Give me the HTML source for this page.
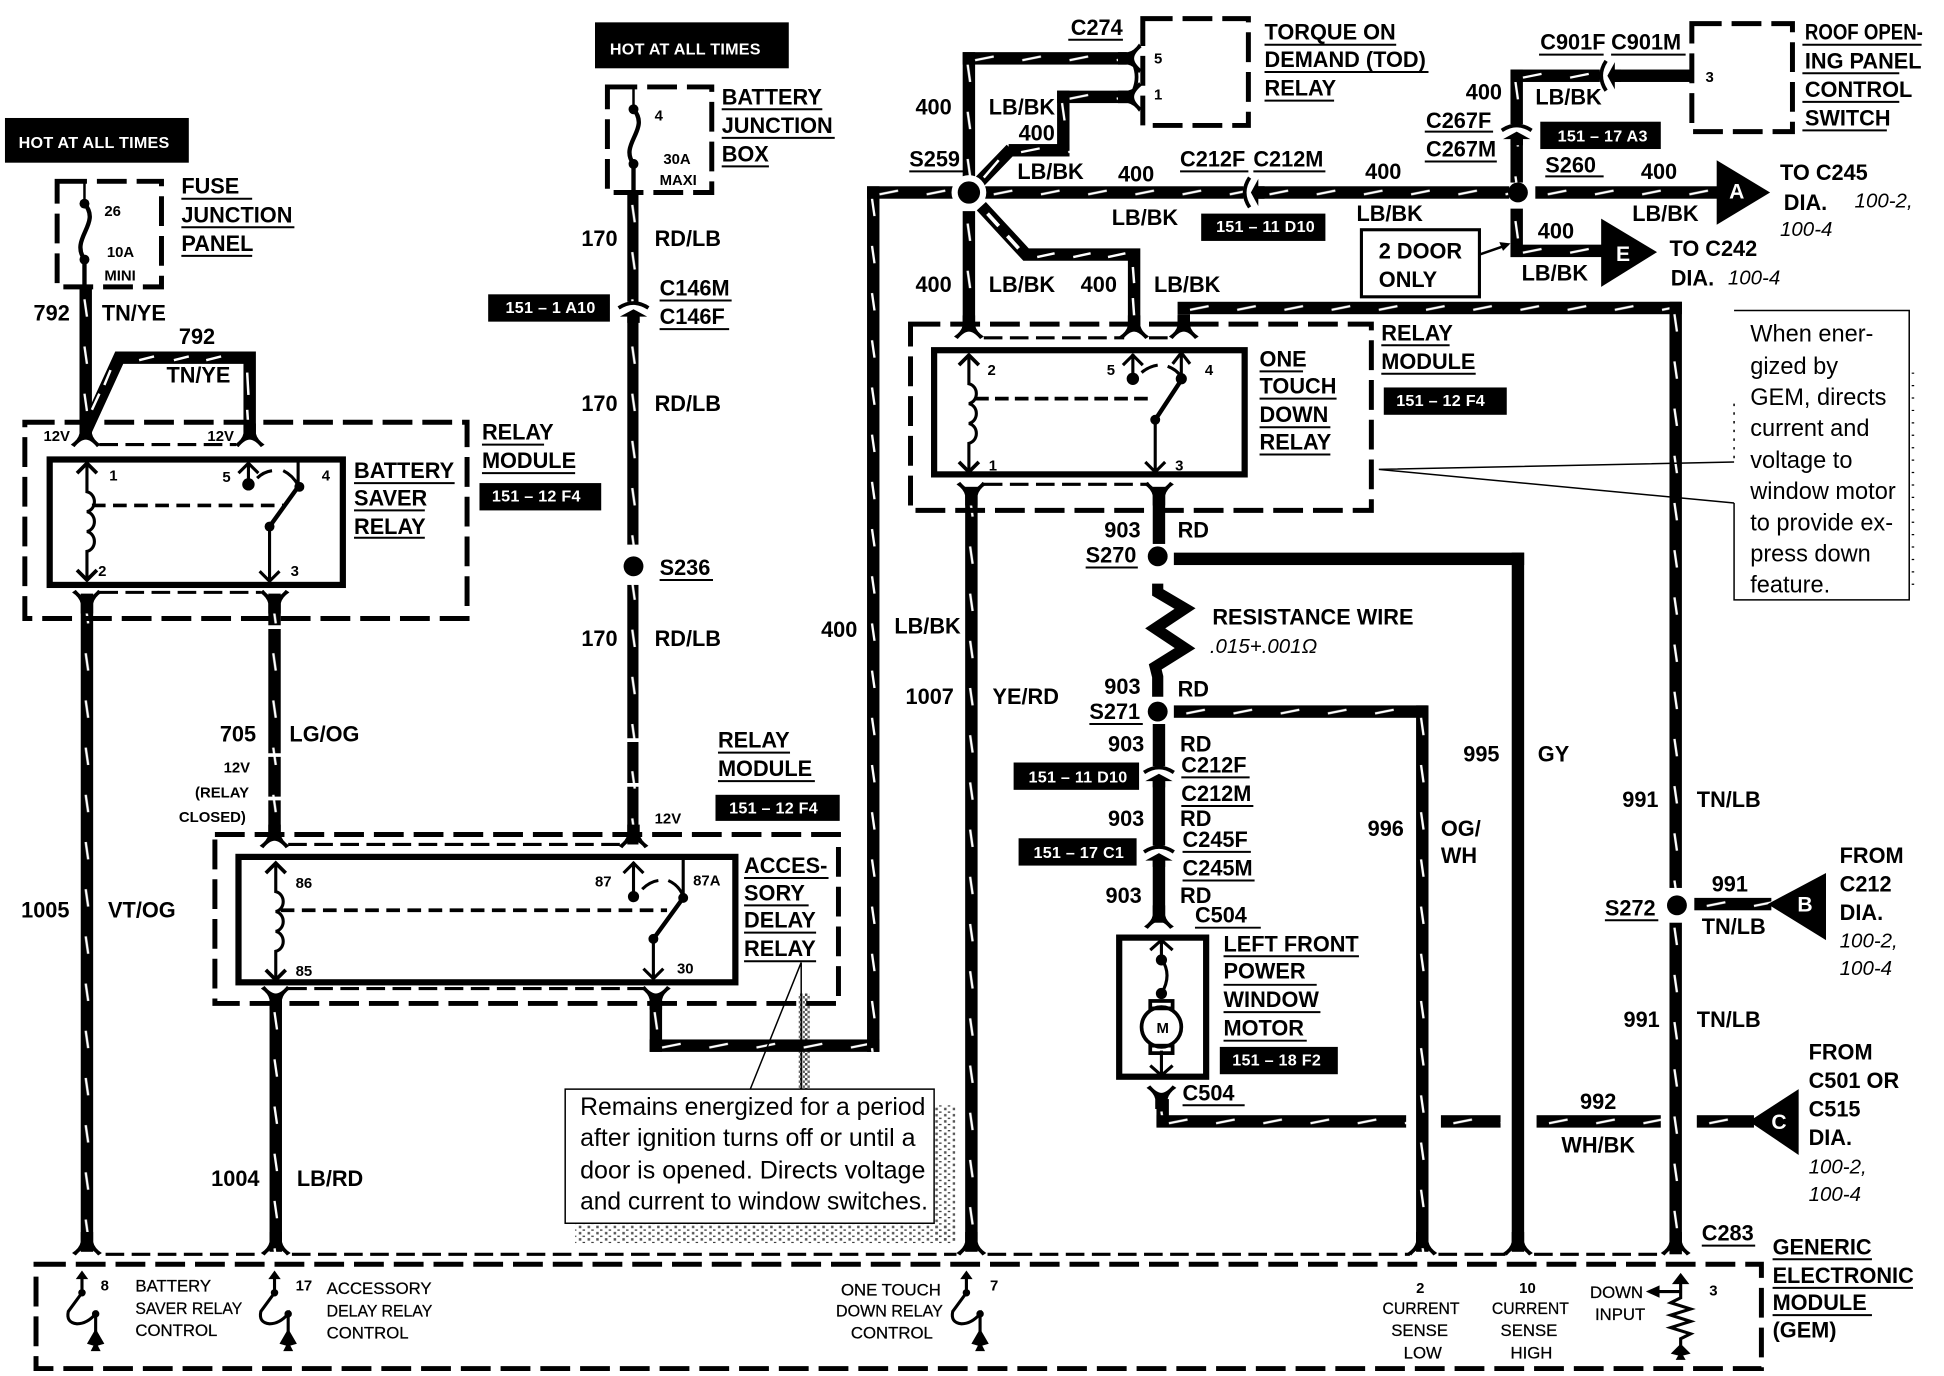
<!DOCTYPE html>
<html><head><meta charset="utf-8"><style>
html,body{margin:0;padding:0;background:#fff}
svg{display:block}
text{font-family:"Liberation Sans",sans-serif;fill:#000}
.b text{font-weight:bold;font-size:17.5px}
.n text{font-weight:bold;font-size:12px}
.s text{font-size:13.5px;stroke:#000;stroke-width:.2}
.r text{font-size:19px}
.i text{font-style:italic;font-size:16.5px}
.w text{fill:#fff;font-size:13px;font-weight:bold;letter-spacing:.2px}
.t text{fill:#fff;font-weight:bold;font-size:17px}
</style></head><body>
<svg xmlns="http://www.w3.org/2000/svg" width="1944" height="1376" viewBox="0 0 1565 1108" preserveAspectRatio="none">
<defs>
<pattern id="v" width="10" height="38" patternUnits="userSpaceOnUse"><rect width="10" height="38" fill="#000"/><path d="M4 10L6 24" stroke="#fff" stroke-width="1.9"/></pattern>
<pattern id="h" width="38" height="10" patternUnits="userSpaceOnUse"><rect width="38" height="10" fill="#000"/><path d="M10 6.5L25 3.5" stroke="#fff" stroke-width="1.9"/></pattern>
<pattern id="dith" width="4" height="4" patternUnits="userSpaceOnUse"><rect width="2" height="2" fill="#444"/><rect x="2" y="2" width="2" height="2" fill="#666"/></pattern>
<pattern id="dith2" width="7" height="5" patternUnits="userSpaceOnUse"><rect width="2" height="1" fill="#333"/><rect x="4" y="2" width="2" height="2" fill="#555"/></pattern>
<path id="p" d="M-5 -8H5V0Q6 5 12 9L9 11Q4 5 0 5Q-4 5 -9 11L-12 9Q-6 5 -5 0Z"/>
<g id="cv"><rect x="-9" y="-5" width="18" height="12" fill="#fff"/><path d="M-12 0Q0 -8 12 0" fill="none" stroke="#000" stroke-width="3"/><path d="M-11 7L0 1L11 7L5 7V12H-5V7Z"/></g>
<g id="coil" fill="none" stroke="#000" stroke-width="2.5"><path d="M0 2V24c8 2 8 14 0 16c8 2 8 14 0 16c8 2 8 14 0 16V94"/><path d="M-8 9L0 1L8 9M-8 87L0 95L8 87" stroke-width="3"/></g>
<g id="gs"><path d="M0 3V19L-11 34Q-13 43 -4 44Q4 44 11 36V58" fill="none" stroke="#000" stroke-width="2.5"/><path d="M-5 8L0 1L5 8Z"/><circle cy="19" r="3"/><circle cx="11" cy="36" r="3"/><path d="M11 48L18 60L11 62L4 60ZM11 58l4 8h-8z"/></g>
</defs>

<!-- dither shadows -->
<rect x="643" y="800" width="9" height="78" fill="url(#dith)"/>
<rect x="752" y="890" width="17" height="110" fill="url(#dith2)"/>
<rect x="463" y="986" width="306" height="15" fill="url(#dith2)"/>
<path d="M1540 300V480" stroke="#000" stroke-width="2" stroke-dasharray="1 9"/>
<path d="M1396 325V372" stroke="#000" stroke-width="1.2" stroke-dasharray="2 5"/>

<!-- wires -->
<rect transform="translate(64,231)" width="10" height="118" fill="url(#v)"/>
<path d="M69 347L96 288H201V352" fill="none" stroke="#000" stroke-width="10"/>
<path d="M74 330L80 317M84 310L89 298" stroke="#fff" stroke-width="2"/>
<path d="M112 290L124 287M140 290L152 287M166 290L178 287M199 300L200 318M199 330L200 345" stroke="#fff" stroke-width="2" fill="none"/>
<rect transform="translate(65,478)" width="10" height="530" fill="url(#v)"/>
<rect transform="translate(216,478)" width="10" height="197" fill="url(#v)"/>
<path d="M214 505h14M214 608h14M214 643h14" stroke="#fff" stroke-width="3"/>
<rect transform="translate(505,155)" width="9" height="525" fill="url(#v)"/>
<path d="M502 596h14M502 632h14M502 440h14" stroke="#fff" stroke-width="3"/>
<rect x="502" y="441" width="16" height="30" fill="#fff"/>
<rect transform="translate(217,805)" width="10" height="203" fill="url(#v)"/>
<rect transform="translate(523,805)" width="10" height="42" fill="url(#v)"/>
<rect transform="translate(523,837)" width="185" height="10" fill="url(#h)"/>
<rect transform="translate(698,150)" width="10" height="697" fill="url(#v)"/>
<rect transform="translate(698,150)" width="70" height="10" fill="url(#h)"/>
<rect transform="translate(775,42)" width="10" height="105" fill="url(#v)"/>
<rect transform="translate(775,42)" width="132" height="10" fill="url(#h)"/>
<rect transform="translate(851,73)" width="57" height="10" fill="url(#h)"/>
<rect transform="translate(851,73)" width="10" height="52" fill="url(#v)"/>
<rect transform="translate(812,116)" width="49" height="10" fill="url(#h)"/>
<path d="M785 150L814 120" stroke="#000" stroke-width="10"/><path d="M792 143L804 129" stroke="#fff" stroke-width="2"/>
<rect transform="translate(790,150)" width="215" height="10" fill="url(#h)"/>
<rect transform="translate(1012,150)" width="203" height="10" fill="url(#h)"/>
<rect transform="translate(1236,150)" width="150" height="10" fill="url(#h)"/>
<rect transform="translate(1216,56)" width="10" height="91" fill="url(#v)"/>
<rect transform="translate(1216,56)" width="72" height="10" fill="url(#h)"/>
<rect x="1298" y="56" width="63" height="10"/>
<rect transform="translate(1216,168)" width="10" height="39" fill="url(#v)"/>
<rect transform="translate(1216,197)" width="75" height="10" fill="url(#h)"/>
<polygon points="1382,129 1425,155 1382,181"/>
<polygon points="1289,176 1334,203 1289,231"/>
<rect transform="translate(775,170)" width="10" height="92" fill="url(#v)"/>
<path d="M790 166L826 205H913V262" fill="none" stroke="#000" stroke-width="10"/>
<path d="M795 172L804 182M811 190L820 200" stroke="#fff" stroke-width="3"/>
<path d="M835 207L849 204M864 207L878 204M892 207L906 204M912 215L913 228M912 240L913 254" stroke="#fff" stroke-width="2"/>
<rect transform="translate(948,243)" width="406" height="10" fill="url(#h)"/>
<rect transform="translate(948,253)" width="10" height="12" fill="url(#v)"/>
<rect transform="translate(1344,243)" width="10" height="767" fill="url(#v)"/>
<rect x="1340" y="715" width="18" height="28" fill="#fff"/>
<rect transform="translate(777,392)" width="10" height="616" fill="url(#v)"/>
<rect x="928" y="392" width="10" height="46"/>
<rect x="945" y="445" width="282" height="10"/>
<rect x="1217" y="445" width="10" height="563"/>
<path d="M932 470V477L954 490L930 506L954 522L930 537L932 545V561" fill="none" stroke="#000" stroke-width="9"/>
<rect transform="translate(945,568)" width="204" height="10" fill="url(#h)"/>
<rect transform="translate(1140,568)" width="10" height="440" fill="url(#v)"/>
<rect x="928" y="583" width="10" height="160"/>
<rect transform="translate(931,885)" width="10" height="22" fill="url(#v)"/>
<rect transform="translate(931,898)" width="201" height="10" fill="url(#h)"/>
<rect transform="translate(1160,898)" width="48" height="10" fill="url(#h)"/>
<rect transform="translate(1237,898)" width="100" height="10" fill="url(#h)"/>
<rect transform="translate(1366,898)" width="46" height="10" fill="url(#h)"/>
<rect transform="translate(1364,723)" width="62" height="10" fill="url(#h)"/>
<polygon points="1423,728 1470,703 1470,757"/>
<polygon points="1408,903 1448,877 1448,930"/>

<!-- prongs -->
<g>
<use href="#p" x="69" y="349"/><use href="#p" x="201" y="349"/>
<use href="#p" transform="translate(70,486) scale(1,-1)"/><use href="#p" transform="translate(221,486) scale(1,-1)"/>
<use href="#p" x="221" y="672"/><use href="#p" x="510" y="672"/>
<use href="#p" transform="translate(222,805) scale(1,-1)"/><use href="#p" transform="translate(528,805) scale(1,-1)"/>
<use href="#p" x="780" y="262"/><use href="#p" x="913" y="262"/><use href="#p" x="953" y="262"/>
<use href="#p" transform="translate(782,399) scale(1,-1)"/><use href="#p" transform="translate(933,399) scale(1,-1)"/>
<use href="#p" x="933" y="737"/><use href="#p" transform="translate(935,885) scale(1,-1)"/>
<use href="#p" x="70" y="1000"/><use href="#p" x="222" y="1000"/><use href="#p" x="782" y="1000"/>
<use href="#p" x="1145" y="1000"/><use href="#p" x="1222" y="1000"/><use href="#p" x="1349" y="1000"/>
<use href="#p" transform="translate(908,47) rotate(-90)"/><use href="#p" transform="translate(908,78) rotate(-90)"/>
<path d="M913 52Q917 62 913 72" fill="none" stroke="#000" stroke-width="3"/>
<use href="#cv" x="510" y="248"/><use href="#cv" x="933" y="622"/><use href="#cv" x="933" y="686"/><use href="#cv" x="1221" y="105"/>
<use href="#cv" transform="translate(1006,155) rotate(-90)"/><use href="#cv" transform="translate(1293,61) rotate(-90)"/>
</g>

<!-- splice dots -->
<circle cx="780" cy="155" r="14" fill="#fff"/><circle cx="780" cy="155" r="9"/>
<circle cx="510" cy="456" r="8"/>
<circle cx="1222" cy="155" r="8"/>
<circle cx="932" cy="448" r="8"/>
<circle cx="932" cy="573" r="8"/>
<circle cx="1350" cy="729" r="8"/>

<!-- dashed housings -->
<g fill="none" stroke="#000" stroke-width="4" stroke-dasharray="24 8">
<rect x="46" y="146" width="84" height="85"/>
<rect x="489" y="70" width="84" height="85"/>
<rect x="20" y="340" width="356" height="158"/>
<rect x="173" y="672" width="502" height="136"/>
<rect x="733" y="261" width="371" height="150"/>
<rect x="920" y="15" width="85" height="86"/>
<rect x="1362" y="19" width="81" height="87"/>
<rect x="29" y="1018" width="1389" height="84"/>
</g>
<g stroke="#000" stroke-width="2.5" stroke-dasharray="15 6" fill="none">
<path d="M80 358H190M80 477H210"/>
<path d="M232 680H500M232 796H518"/>
<path d="M792 272H905M925 272H945M792 390H925"/>
<path d="M85 1010H210M235 1010H770M795 1010H1135M1158 1010H1212M1235 1010H1340"/>
</g>

<!-- relay bodies -->
<g fill="none" stroke="#000" stroke-width="5">
<rect x="40" y="370" width="236" height="101"/>
<rect x="192" y="690" width="400" height="101"/>
<rect x="752" y="282" width="250" height="100"/>
<rect x="901" y="755" width="70" height="112"/>
</g>
<rect x="1096" y="185" width="95" height="54" fill="#fff" stroke="#000" stroke-width="2.5"/>
<use href="#coil" x="70" y="372"/>
<use href="#coil" x="222" y="694"/>
<use href="#coil" x="780" y="285"/>
<g fill="none" stroke="#000" stroke-width="2.5">
<path d="M74 407H228" stroke-dasharray="11 6" stroke-width="3"/>
<path d="M226 407H537" transform="translate(0,326)" stroke-dasharray="11 6" stroke-width="3"/>
<path d="M785 321H925" stroke-dasharray="11 5" stroke-width="3"/>
<!-- relay1 -->
<path d="M200 372V390M192 381L200 373L208 381M207 385Q212 380 219 379M228 379Q236 383 240 391M240 372V392M217 424V468M209 460L217 468L225 460"/>
<path d="M240 392L217 424" stroke-width="3.5"/>
<!-- acc -->
<path d="M510 694V720M502 703L510 695L518 703M517 716Q523 710 530 709M538 709Q547 713 550 722M550 691V722M526 756V788M518 780L526 788L534 780"/>
<path d="M550 723L526 756" stroke-width="3.5"/>
<!-- one touch -->
<path d="M912 285V304M904 294L912 286L920 294M919 300Q925 295 932 294M940 295Q948 298 951 304M951 285V305M944 293L951 284L958 293M930 338V380M922 372L930 380L938 372"/>
<path d="M951 306L930 338" stroke-width="3.5"/>
<path d="M935 757V770M926 765L935 757L944 765M935 772Q944 785 935 800M935 846V866M926 858L935 866L944 858"/>
<path d="M1191 205L1214 197" stroke-width="2"/>
</g>
<path d="M1216 196l-9 -1l3 7z"/>
<circle cx="200" cy="390" r="5"/><circle cx="241" cy="392" r="4"/><circle cx="217" cy="424" r="4"/>
<circle cx="510" cy="722" r="4.5"/><circle cx="550" cy="723" r="4"/><circle cx="526" cy="756" r="4"/>
<circle cx="912" cy="305" r="5"/><circle cx="951" cy="305" r="4.5"/><circle cx="930" cy="338" r="4"/>
<circle cx="935" cy="773" r="4.5"/><circle cx="935" cy="800" r="4.5"/>
<g fill="none" stroke="#000" stroke-width="3"><circle cx="935" cy="827" r="16"/><rect x="926" y="806" width="18" height="6"/><rect x="926" y="842" width="18" height="6"/></g>

<!-- fuses -->
<g fill="none" stroke="#000" stroke-width="2">
<path d="M68 146V164"/><path d="M68 164C82 180 56 192 68 209V231" stroke-width="3.5"/>
<path d="M510 70V88"/><path d="M510 88C524 104 498 116 510 132V155" stroke-width="3.5"/>
</g>
<circle cx="68" cy="164" r="4"/><circle cx="68" cy="209" r="4"/><circle cx="510" cy="88" r="4"/><circle cx="510" cy="132" r="4"/>

<!-- GEM symbols -->
<use href="#gs" x="66" y="1022"/><use href="#gs" x="221" y="1022"/><use href="#gs" x="778" y="1022"/>
<path d="M1353 1028V1045L1345 1049L1361 1054L1345 1059L1361 1064L1345 1069L1361 1074L1353 1078V1085M1353 1040H1332" fill="none" stroke="#000" stroke-width="2.5"/>
<path d="M1346 1034L1353 1025L1360 1034ZM1325 1040L1336 1035V1045ZM1353 1082L1361 1090L1353 1092L1345 1090ZM1353 1088l4 7h-8z"/>

<!-- black tags -->
<rect x="4" y="95" width="148" height="36"/><rect x="479" y="18" width="156" height="37"/>
<rect x="386" y="389" width="98" height="22"/><rect x="393" y="237" width="98" height="22"/>
<rect x="576" y="640" width="100" height="21"/><rect x="1114" y="312" width="99" height="22"/>
<rect x="967" y="172" width="100" height="22"/><rect x="1240" y="98" width="97" height="22"/>
<rect x="816" y="614" width="101" height="22"/><rect x="820" y="675" width="95" height="22"/>
<rect x="982" y="843" width="95" height="22"/>
<g class="w">
<text x="15" y="119">HOT AT ALL TIMES</text><text x="491" y="44">HOT AT ALL TIMES</text>
<text x="396" y="404">151 – 12 F4</text><text x="407" y="252">151 – 1 A10</text>
<text x="587" y="655">151 – 12 F4</text><text x="1124" y="327">151 – 12 F4</text>
<text x="979" y="187">151 – 11 D10</text><text x="1254" y="114">151 – 17 A3</text>
<text x="828" y="630">151 – 11 D10</text><text x="832" y="691">151 – 17 C1</text>
<text x="992" y="858">151 – 18 F2</text>
</g>
<g class="t">
<text x="1392" y="160">A</text>
<text x="1301" y="210">E</text>
<text x="1447" y="734">B</text>
<text x="1426" y="909">C</text>
</g>

<!-- callouts -->
<rect x="455" y="877" width="297" height="108" fill="#fff" stroke="#000" stroke-width="1.2"/>
<path d="M645 775L604 877M645 775V877M1110 378L1396 372M1110 378L1396 405" fill="none" stroke="#000" stroke-width="1.2"/>
<path d="M1396 250H1537V483H1396V405" fill="none" stroke="#000" stroke-width="1.2"/>

<!-- underlines -->
<path stroke="#000" stroke-width="1.6" fill="none" d="M146 160h57M146 183h91M146 206h57M285 389h81M285 411h57M285 433h57M388 358h50M388 381h75M581 88h81M581 111h91M581 134h38M531 242h58M531 265h56M531 467h43M578 606h58M578 629h78M599 707h68M599 729h52M599 751h58M599 774h58M732 138h45M860 32h44M1018 36h106M1018 58h132M1018 81h56M950 138h55M1009 138h58M1239 44h52M1297 44h60M1451 36h96M1451 59h78M1451 82h78M1451 105h68M1147 106h55M1147 130h58M1244 142h47M1014 299h35M1014 321h62M1014 344h57M1014 366h57M1112 278h55M1112 301h76M874 457h42M877 583h43M951 626h55M951 649h58M952 686h55M952 709h58M962 747h53M985 770h109M985 793h75M985 815h78M985 838h67M952 890h50M1292 741h43M1370 1003h43M1427 1014h80M1427 1037h113M1427 1059h80"/>

<!-- bold labels -->
<g class="b">
<text x="146" y="156">FUSE</text><text x="146" y="179">JUNCTION</text><text x="146" y="202">PANEL</text>
<text x="27" y="258">792</text><text x="82" y="258">TN/YE</text><text x="144" y="277">792</text><text x="134" y="308">TN/YE</text>
<text x="285" y="385">BATTERY</text><text x="285" y="407">SAVER</text><text x="285" y="430">RELAY</text>
<text x="388" y="354">RELAY</text><text x="388" y="377">MODULE</text>
<text x="581" y="84">BATTERY</text><text x="581" y="107">JUNCTION</text><text x="581" y="130">BOX</text>
<text x="468" y="198">170</text><text x="527" y="198">RD/LB</text>
<text x="468" y="331">170</text><text x="527" y="331">RD/LB</text>
<text x="468" y="520">170</text><text x="527" y="520">RD/LB</text>
<text x="531" y="238">C146M</text><text x="531" y="261">C146F</text><text x="531" y="463">S236</text>
<text x="177" y="597">705</text><text x="233" y="597">LG/OG</text>
<text x="578" y="602">RELAY</text><text x="578" y="625">MODULE</text>
<text x="599" y="703">ACCES-</text><text x="599" y="725">SORY</text><text x="599" y="747">DELAY</text><text x="599" y="770">RELAY</text>
<text x="17" y="739">1005</text><text x="87" y="739">VT/OG</text>
<text x="170" y="955">1004</text><text x="239" y="955">LB/RD</text>
<text x="661" y="513">400</text><text x="720" y="510">LB/BK</text>
<text x="729" y="567">1007</text><text x="799" y="567">YE/RD</text>
<text x="737" y="92">400</text><text x="796" y="92">LB/BK</text><text x="820" y="113">400</text>
<text x="732" y="134">S259</text><text x="819" y="144">LB/BK</text><text x="900" y="146">400</text>
<text x="895" y="181">LB/BK</text><text x="950" y="134">C212F</text><text x="1009" y="134">C212M</text>
<text x="1099" y="144">400</text><text x="1092" y="178">LB/BK</text>
<text x="737" y="235">400</text><text x="796" y="235">LB/BK</text><text x="870" y="235">400</text><text x="929" y="235">LB/BK</text>
<text x="862" y="28">C274</text>
<text x="1018" y="32">TORQUE ON</text><text x="1018" y="54">DEMAND (TOD)</text><text x="1018" y="77">RELAY</text>
<text x="1240" y="40">C901F</text><text x="1297" y="40">C901M</text>
<text x="1453" y="32" textLength="95" lengthAdjust="spacingAndGlyphs">ROOF OPEN-</text><text x="1453" y="55">ING PANEL</text><text x="1453" y="78">CONTROL</text><text x="1453" y="101">SWITCH</text>
<text x="1180" y="80">400</text><text x="1236" y="84">LB/BK</text><text x="1148" y="103">C267F</text><text x="1148" y="126">C267M</text>
<text x="1244" y="139">S260</text><text x="1321" y="144">400</text><text x="1314" y="178">LB/BK</text>
<text x="1238" y="192">400</text><text x="1225" y="226">LB/BK</text>
<text x="1433" y="145">TO C245</text><text x="1436" y="169">DIA.</text>
<text x="1344" y="206">TO C242</text><text x="1345" y="230">DIA.</text>
<text x="1110" y="208">2 DOOR</text><text x="1110" y="231">ONLY</text>
<text x="1014" y="295">ONE</text><text x="1014" y="317">TOUCH</text><text x="1014" y="340">DOWN</text><text x="1014" y="362">RELAY</text>
<text x="1112" y="274">RELAY</text><text x="1112" y="297">MODULE</text>
<text x="889" y="433">903</text><text x="948" y="433">RD</text><text x="874" y="453">S270</text>
<text x="976" y="503">RESISTANCE WIRE</text>
<text x="889" y="559">903</text><text x="948" y="561">RD</text><text x="877" y="579">S271</text>
<text x="892" y="605">903</text><text x="950" y="605">RD</text><text x="951" y="622">C212F</text><text x="951" y="645">C212M</text>
<text x="892" y="665">903</text><text x="950" y="665">RD</text><text x="952" y="682">C245F</text><text x="952" y="705">C245M</text>
<text x="890" y="727">903</text><text x="950" y="727">RD</text><text x="962" y="743">C504</text>
<text x="985" y="766">LEFT FRONT</text><text x="985" y="788">POWER</text><text x="985" y="811">WINDOW</text><text x="985" y="834">MOTOR</text>
<text x="952" y="886">C504</text>
<text x="1101" y="673">996</text><text x="1160" y="673">OG/</text><text x="1160" y="695">WH</text>
<text x="1178" y="613">995</text><text x="1238" y="613">GY</text>
<text x="1306" y="650">991</text><text x="1366" y="650">TN/LB</text><text x="1307" y="827">991</text><text x="1366" y="827">TN/LB</text>
<text x="1378" y="718">991</text><text x="1370" y="752">TN/LB</text><text x="1292" y="737">S272</text>
<text x="1272" y="893">992</text><text x="1257" y="928">WH/BK</text>
<text x="1481" y="695">FROM</text><text x="1481" y="718">C212</text><text x="1481" y="741">DIA.</text>
<text x="1456" y="853">FROM</text><text x="1456" y="876">C501 OR</text><text x="1456" y="899">C515</text><text x="1456" y="922">DIA.</text>
<text x="1370" y="999">C283</text>
<text x="1427" y="1010">GENERIC</text><text x="1427" y="1033">ELECTRONIC</text><text x="1427" y="1055">MODULE</text><text x="1427" y="1077">(GEM)</text>
</g>
<g class="i">
<text x="1493" y="167">100-2,</text><text x="1433" y="190">100-4</text><text x="1391" y="229">100-4</text>
<text x="974" y="526">.015+.001Ω</text>
<text x="1481" y="763">100-2,</text><text x="1481" y="785">100-4</text>
<text x="1456" y="945">100-2,</text><text x="1456" y="967">100-4</text>
</g>
<g class="n">
<text x="35" y="355">12V</text><text x="167" y="355">12V</text><text x="527" y="663">12V</text>
<text x="180" y="622">12V</text><text x="157" y="642">(RELAY</text><text x="144" y="662">CLOSED)</text>
<text x="84" y="174">26</text><text x="86" y="207">10A</text><text x="84" y="226">MINI</text>
<text x="527" y="97">4</text><text x="534" y="132">30A</text><text x="531" y="149">MAXI</text>
<text x="88" y="387">1</text><text x="179" y="388">5</text><text x="259" y="387">4</text><text x="79" y="464">2</text><text x="234" y="464">3</text>
<text x="238" y="715">86</text><text x="238" y="786">85</text><text x="479" y="714">87</text><text x="558" y="713">87A</text><text x="545" y="784">30</text>
<text x="795" y="302">2</text><text x="891" y="302">5</text><text x="970" y="302">4</text><text x="796" y="379">1</text><text x="946" y="379">3</text>
<text x="929" y="51">5</text><text x="929" y="80">1</text><text x="1373" y="66">3</text>
<text x="931" y="832">M</text>
<text x="81" y="1039">8</text><text x="238" y="1039">17</text><text x="797" y="1039">7</text>
<text x="1140" y="1041">2</text><text x="1223" y="1041">10</text><text x="1376" y="1043">3</text>
</g>
<g class="s">
<text x="109" y="1040">BATTERY</text><text x="109" y="1058" textLength="86" lengthAdjust="spacingAndGlyphs">SAVER RELAY</text><text x="109" y="1076">CONTROL</text>
<text x="263" y="1042">ACCESSORY</text><text x="263" y="1060" textLength="85" lengthAdjust="spacingAndGlyphs">DELAY RELAY</text><text x="263" y="1078">CONTROL</text>
<text x="677" y="1043">ONE TOUCH</text><text x="673" y="1060" textLength="86" lengthAdjust="spacingAndGlyphs">DOWN RELAY</text><text x="685" y="1078">CONTROL</text>
<text x="1113" y="1058" textLength="62" lengthAdjust="spacingAndGlyphs">CURRENT</text><text x="1120" y="1076">SENSE</text><text x="1130" y="1094">LOW</text>
<text x="1201" y="1058" textLength="62" lengthAdjust="spacingAndGlyphs">CURRENT</text><text x="1208" y="1076">SENSE</text><text x="1216" y="1094">HIGH</text>
<text x="1280" y="1045">DOWN</text><text x="1284" y="1063">INPUT</text>
</g>
<g class="r">
<text x="467" y="898" textLength="278" lengthAdjust="spacingAndGlyphs" style="font-size:20px">Remains energized for a period</text>
<text x="467" y="923" textLength="270" lengthAdjust="spacingAndGlyphs" style="font-size:20px">after ignition turns off or until a</text>
<text x="467" y="949" textLength="278" lengthAdjust="spacingAndGlyphs" style="font-size:20px">door is opened. Directs voltage</text>
<text x="467" y="974" textLength="280" lengthAdjust="spacingAndGlyphs" style="font-size:20px">and current to window switches.</text>
<text x="1409" y="275">When ener-</text><text x="1409" y="301">gized by</text><text x="1409" y="326">GEM, directs</text><text x="1409" y="351">current and</text><text x="1409" y="377">voltage to</text><text x="1409" y="402">window motor</text><text x="1409" y="427">to provide ex-</text><text x="1409" y="452">press down</text><text x="1409" y="477">feature.</text>
</g>
</svg>
</body></html>
